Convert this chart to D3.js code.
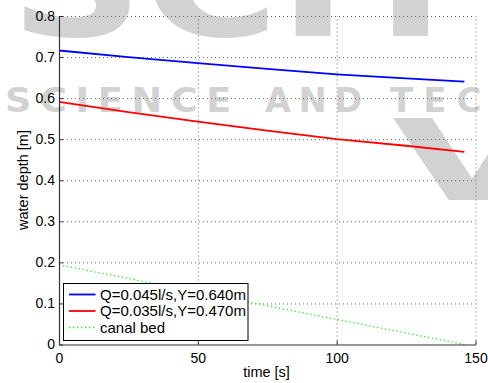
<!DOCTYPE html>
<html>
<head>
<meta charset="utf-8">
<script src="https://cdn.jsdelivr.net/npm/d3@7/dist/d3.min.js"></script>
<style>
  body { margin: 0; background: #fff; }
  svg { display: block; font-family: "Liberation Sans", Arial, sans-serif; }
</style>
</head>
<body>
<svg id="chart" width="488" height="383"></svg>
<script>
// ---- data ----
const timeS = [0, 25, 50, 75, 100, 125, 146];
const depthQ045 = [0.716, 0.700, 0.685, 0.671, 0.658, 0.648, 0.640];
const depthQ035 = [0.591, 0.566, 0.543, 0.521, 0.500, 0.484, 0.469];
const bedTime = [0, 146];
const bedDepth = [0.194, 0.0];
const seriesNames = ["Q=0.045l/s,Y=0.640m", "Q=0.035l/s,Y=0.470m", "canal bed"];
const xTicks = [0, 50, 100, 150];
const yTicks = [0, 0.1, 0.2, 0.3, 0.4, 0.5, 0.6, 0.7, 0.8];

const svg = d3.select("#chart");
const W = 488, H = 383;
const m = { left: 59, right: 12.5, top: 16, bottom: 38.5 };

// ---- watermark (background decoration of the source picture) ----
const wm = svg.append("g").attr("fill", "#d2d2d2")
  .style("font-family", "'DejaVu Sans', sans-serif").style("font-weight", "bold");
wm.append("text").attr("x", 10).attr("y", 36).attr("font-size", 150)
  .attr("textLength", 590).attr("lengthAdjust", "spacingAndGlyphs").text("SCITE");
wm.append("text").attr("x", 5).attr("y", 112).attr("font-size", 34)
  .attr("textLength", 235).attr("lengthAdjust", "spacingAndGlyphs")
  .attr("letter-spacing", 8).text("SCIENCE");
wm.append("text").attr("x", 265).attr("y", 112).attr("font-size", 34)
  .attr("textLength", 105).attr("lengthAdjust", "spacingAndGlyphs")
  .attr("letter-spacing", 8).text("AND");
wm.append("text").attr("x", 390).attr("y", 112).attr("font-size", 34)
  .attr("letter-spacing", 10).text("TECHNOLOGY");
wm.append("text").attr("x", 392).attr("y", 200).attr("font-size", 112)
  .attr("textLength", 160).attr("lengthAdjust", "spacingAndGlyphs").text("V");

const x = d3.scaleLinear().domain([0, 150]).range([m.left, W - m.right]);
const y = d3.scaleLinear().domain([0, 0.8]).range([H - m.bottom, m.top]);

// ---- grid ----
const grid = svg.append("g").attr("class", "grid");
grid.append("g").attr("transform", `translate(0,${y(0)})`)
  .call(d3.axisBottom(x).tickValues(xTicks.slice(1)).tickSize(-(y(0) - y(0.8))).tickFormat(""))
  .call(g => g.select(".domain").remove());
grid.append("g").attr("transform", `translate(${x(0)},0)`)
  .call(d3.axisLeft(y).tickValues(yTicks.slice(1)).tickSize(-(x(150) - x(0))).tickFormat(""))
  .call(g => g.select(".domain").remove());
grid.selectAll("line").attr("stroke", "#666").attr("stroke-width", 1)
  .attr("stroke-dasharray", "1,3");

// ---- lines ----
const line = d3.line().x(d => x(d[0])).y(d => y(d[1]));
svg.append("path").datum(timeS.map((t, i) => [t, depthQ045[i]]))
  .attr("d", line).attr("fill", "none").attr("stroke", "#0000ff").attr("stroke-width", 1.8);
svg.append("path").datum(timeS.map((t, i) => [t, depthQ035[i]]))
  .attr("d", line).attr("fill", "none").attr("stroke", "#ff0000").attr("stroke-width", 1.8);
svg.append("path").datum(bedTime.map((t, i) => [t, bedDepth[i]]))
  .attr("d", line).attr("fill", "none").attr("stroke", "#22ee22").attr("stroke-width", 1.3)
  .attr("stroke-dasharray", "1.3,2.7");

// ---- axes ----
const fmtY = d => d === 0 ? "0" : d3.format(".1f")(d);
const ax = svg.append("g").attr("transform", `translate(0,${y(0)})`)
  .call(d3.axisBottom(x).tickValues(xTicks).tickSizeInner(-4).tickSizeOuter(0).tickPadding(6));
const ay = svg.append("g").attr("transform", `translate(${x(0)},0)`)
  .call(d3.axisLeft(y).tickValues(yTicks).tickFormat(fmtY).tickSizeInner(-4).tickSizeOuter(0).tickPadding(4));
[ax, ay].forEach(a => {
  a.select(".domain").attr("stroke", "#333").attr("stroke-width", 1.2);
  a.selectAll(".tick line").attr("stroke", "#333");
  a.selectAll(".tick text").attr("fill", "#000").attr("font-size", 14)
    .style("font-family", "'Liberation Sans', Arial, sans-serif");
});
ax.selectAll(".tick text").attr("dy", "0.9em");

// axis labels
svg.append("text").attr("x", 266.5).attr("y", 377).attr("text-anchor", "middle")
  .attr("font-size", 14.5).text("time [s]");
svg.append("text").attr("transform", `translate(28,180) rotate(-90)`).attr("text-anchor", "middle")
  .attr("font-size", 14.5).text("water depth [m]");

// ---- legend ----
const lg = svg.append("g").attr("transform", "translate(63.5,283.5)");
lg.append("rect").attr("width", 184.5).attr("height", 57).attr("fill", "#fff")
  .attr("stroke", "#000").attr("stroke-width", 1);
const lstyles = [
  { c: "#0000ff", w: 1.8, d: null },
  { c: "#ff0000", w: 1.8, d: null },
  { c: "#22ee22", w: 1.3, d: "1.3,2.7" }
];
seriesNames.forEach((name, i) => {
  const yy = 11 + i * 16.5;
  lg.append("line").attr("x1", 5.5).attr("x2", 32).attr("y1", yy).attr("y2", yy)
    .attr("stroke", lstyles[i].c).attr("stroke-width", lstyles[i].w)
    .attr("stroke-dasharray", lstyles[i].d);
  lg.append("text").attr("x", 36.5).attr("y", yy).attr("dy", "0.35em")
    .attr("font-size", 15).text(name);
});
</script>
</body>
</html>
